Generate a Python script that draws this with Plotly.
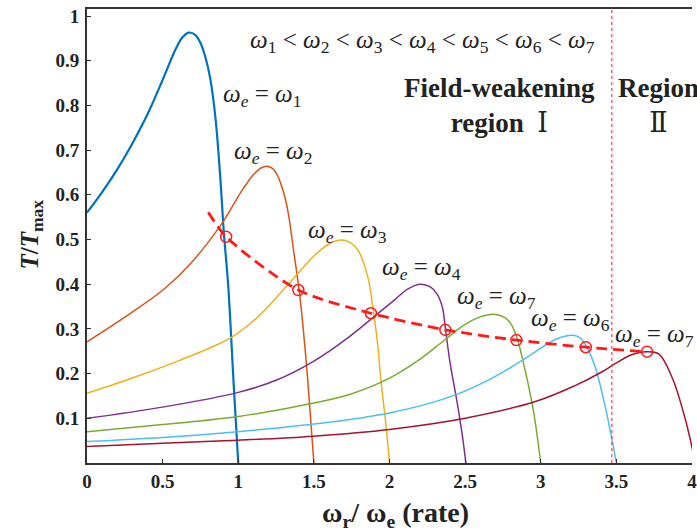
import plotly.graph_objects as go

# ---------------- data ----------------
x1 = [0, 0.1, 0.2, 0.3, 0.4, 0.5, 0.585, 0.63, 0.673, 0.715, 0.75, 0.785, 0.815, 0.85, 0.883, 0.905, 0.933, 0.97, 1.0]
y1 = [0.56, 0.606, 0.657, 0.715, 0.78, 0.857, 0.925, 0.952, 0.963, 0.958, 0.94, 0.905, 0.86, 0.77, 0.63, 0.514, 0.40, 0.175, 0.0]

x2 = [0, 0.28, 0.52, 0.7, 0.89, 1.025, 1.1, 1.15, 1.19, 1.23, 1.26, 1.3, 1.33, 1.37, 1.405, 1.45, 1.475, 1.5]
y2 = [0.271, 0.333, 0.392, 0.452, 0.535, 0.61, 0.645, 0.66, 0.664, 0.658, 0.643, 0.605, 0.56, 0.465, 0.38, 0.224, 0.115, 0.0]

x3 = [0, 0.3, 0.6, 0.83, 0.96, 1.13, 1.35, 1.5, 1.6, 1.68, 1.735, 1.79, 1.856, 1.889, 1.921, 1.943, 1.975, 2.0]
y3 = [0.156, 0.19, 0.228, 0.26, 0.282, 0.327, 0.407, 0.463, 0.49, 0.499, 0.494, 0.477, 0.417, 0.35, 0.268, 0.186, 0.09, 0.0]

x4 = [0, 0.5, 1.0, 1.25, 1.5, 1.72, 1.9, 2.03, 2.12, 2.2, 2.27, 2.315, 2.35, 2.37, 2.4, 2.45, 2.48, 2.505]
y4 = [0.1, 0.125, 0.158, 0.185, 0.228, 0.279, 0.328, 0.364, 0.389, 0.40, 0.394, 0.378, 0.348, 0.30, 0.225, 0.13, 0.065, 0.0]

x5 = [0, 0.5, 1.0, 1.5, 1.75, 2.0, 2.2, 2.36, 2.5, 2.6, 2.69, 2.76, 2.8, 2.84, 2.88, 2.95, 3.0]
y5 = [0.07, 0.086, 0.104, 0.134, 0.155, 0.19, 0.232, 0.274, 0.31, 0.327, 0.333, 0.326, 0.313, 0.283, 0.232, 0.12, 0.0]

x6 = [0, 0.5, 1.0, 1.5, 2.0, 2.4, 2.65, 2.88, 3.0, 3.1, 3.21, 3.26, 3.3, 3.36, 3.43, 3.5]
y6 = [0.048, 0.057, 0.07, 0.087, 0.112, 0.148, 0.185, 0.23, 0.257, 0.277, 0.286, 0.28, 0.262, 0.215, 0.12, 0.0]

x7 = [0, 0.5, 1.0, 1.5, 2.0, 2.5, 2.97, 3.22, 3.4, 3.5, 3.6, 3.7, 3.78, 3.87, 3.95, 4.0, 4.02]
y7 = [0.037, 0.044, 0.051, 0.06, 0.075, 0.1, 0.138, 0.172, 0.203, 0.224, 0.242, 0.249, 0.244, 0.19, 0.105, 0.035, 0.0]

# maximum-torque operating points (red circles) and dashed trajectory
xc = [0.92, 1.397, 1.877, 2.369, 2.839, 3.298, 3.703]
yc = [0.506, 0.387, 0.335, 0.298, 0.275, 0.259, 0.249]
xd = [0.802] + xc
yd = [0.561] + yc

x_boundary = 3.47  # field-weakening region I / II boundary

curve_x = [x1, x2, x3, x4, x5, x6, x7]
curve_y = [y1, y2, y3, y4, y5, y6, y7]
colors = ["#0072BD", "#D95319", "#EDB120", "#7E2F8E", "#77AC30", "#4DBEEE", "#A2142F"]
widths = [2.2, 1.5, 1.5, 1.5, 1.5, 1.5, 1.5]

x_ticks = [0, 0.5, 1, 1.5, 2, 2.5, 3, 3.5, 4]
x_ticktext = ["0", "0.5", "1", "1.5", "2", "2.5", "3", "3.5", "4"]
y_ticks = [0.1, 0.2, 0.3, 0.4, 0.5, 0.6, 0.7, 0.8, 0.9, 1.0]
y_ticktext = ["0.1", "0.2", "0.3", "0.4", "0.5", "0.6", "0.7", "0.8", "0.9", "1"]

curve_labels = ["1", "2", "3", "4", "7", "6", "7"]
label_pos = [(0.885, 0.823), (0.957, 0.694), (1.449, 0.517), (1.934, 0.436),
             (2.433, 0.371), (2.925, 0.320), (3.475, 0.286)]

SERIF = "Liberation Serif, DejaVu Serif, serif"

fig = go.Figure()
for cx, cy, c, w in zip(curve_x, curve_y, colors, widths):
    fig.add_trace(go.Scatter(x=cx, y=cy, mode="lines", line=dict(color=c, width=w, shape="spline", smoothing=1.0),
                             showlegend=False, hoverinfo="skip"))

fig.add_trace(go.Scatter(x=xd, y=yd, mode="lines",
                         line=dict(color="#FF1A1A", width=2.8, dash="11px,6px", shape="spline", smoothing=0.8),
                         showlegend=False, hoverinfo="skip"))
fig.add_trace(go.Scatter(x=xc, y=yc, mode="markers",
                         marker=dict(symbol="circle-open", size=11, color="#FF1A1A", line=dict(width=1.5)),
                         showlegend=False, hoverinfo="skip"))

fig.add_trace(go.Scatter(x=[x_boundary, x_boundary], y=[0, 1.02], mode="lines",
                         line=dict(color="#FF3355", width=1.2, dash="dot"), showlegend=False, hoverinfo="skip"))

annotations = []
for lab, (ax, ay) in zip(curve_labels, label_pos):
    annotations.append(dict(x=ax, y=ay, xref="x", yref="y", xanchor="left", yanchor="middle", showarrow=False,
                            text="<i>ω<sub>e</sub></i> = <i>ω</i><sub>%s</sub>" % lab,
                            font=dict(family=SERIF, size=25, color="#222")))

top = " &lt; ".join("<i>ω</i><sub>%d</sub>" % k for k in range(1, 8))
annotations.append(dict(x=2.216, y=0.942, xref="x", yref="y", xanchor="center", yanchor="middle", showarrow=False,
                        text=top, font=dict(family=SERIF, size=25, color="#222")))
annotations.append(dict(x=2.728, y=0.799, xref="x", yref="y", xanchor="center", yanchor="middle", showarrow=False,
                        align="center", text="<b>Field-weakening</b><br><b>region</b>  Ⅰ",
                        font=dict(family=SERIF, size=27, color="#222")))
annotations.append(dict(x=3.495, y=0.799, xref="x", yref="y", xanchor="left", yanchor="middle", showarrow=False,
                        align="center", text="<b>Region</b><br>Ⅱ",
                        font=dict(family=SERIF, size=27, color="#222")))
annotations.append(dict(x=-0.092, y=0.504, xref="paper", yref="paper", xanchor="center", yanchor="middle",
                        showarrow=False, textangle=-90,
                        text="<b><i>T</i>/<i>T</i><sub>max</sub></b>",
                        font=dict(family=SERIF, size=25, color="#222")))
annotations.append(dict(x=0.51, y=-0.1145, xref="paper", yref="paper", xanchor="center", yanchor="middle",
                        showarrow=False,
                        text="<b>ω<sub>r</sub>/ ω<sub>e</sub> (rate)</b>",
                        font=dict(family=SERIF, size=28, color="#222")))

fig.update_layout(
    width=697, height=531,
    margin=dict(l=87, r=0, t=9, b=68),
    paper_bgcolor="white", plot_bgcolor="white",
    annotations=annotations,
    xaxis=dict(range=[0, 4.0], tickvals=x_ticks, ticktext=["<b>%s</b>" % t for t in x_ticktext],
               ticks="inside", ticklen=4,
               tickcolor="#333", showgrid=False, zeroline=False, showline=True, linecolor="#333", linewidth=2,
               mirror=True, ticklabeloverflow="allow",
               tickfont=dict(family=SERIF, size=19, color="#222", weight="bold")),
    yaxis=dict(range=[0, 1.0157], tickvals=y_ticks, ticktext=["<b>%s</b>" % t for t in y_ticktext],
               ticks="inside", ticklen=4,
               tickcolor="#333", showgrid=False, zeroline=False, showline=True, linecolor="#333", linewidth=2,
               mirror=False, ticklabelstandoff=2,
               tickfont=dict(family=SERIF, size=19, color="#222", weight="bold")),
)

fig.write_html("out.html")
